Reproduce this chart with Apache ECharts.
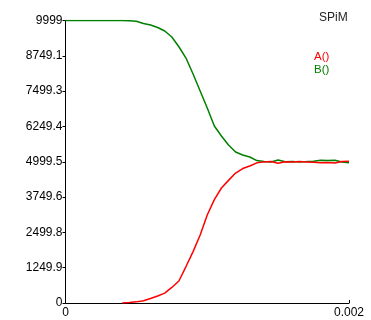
<!DOCTYPE html>
<html style="height: 100%">
<head>
  <meta charset="utf-8">
</head>
<body style="height: 100%; margin: 0; background: #fff">
  <div id="container" style="width: 371px; height: 320px"></div>
  <script type="text/javascript" src="https://cdn.jsdelivr.net/npm/echarts@6/dist/echarts.min.js"></script>
  <script type="text/javascript">
// time points (step 0.00005)
var times = [];
for (var k = 0; k <= 40; k++) times.push(+(k * 0.00005).toFixed(5));

// A() is hidden under the x axis before ~0.0004
var seriesA = [null, null, null, null, null, null, null, null, 0, 15, 40, 78, 160, 250, 350, 550, 780, 1290, 1820, 2405,
  3115, 3660, 4070, 4340, 4600, 4760, 4850, 4960, 4995, 5010, 4950, 5000, 4990, 5005, 4995, 4980,
  4960, 4970, 4955, 5010, 5020];
var seriesB = [9999, 9999, 9999, 9999, 9999, 9999, 9999, 9999, 9999, 9990, 9975, 9890, 9838, 9750, 9626, 9414, 9070, 8670, 8104, 7503,
  6900, 6264, 5910, 5592, 5344, 5238, 5167, 5040, 5005, 4990, 5060, 5000, 5010, 4995, 5005, 5020,
  5050, 5040, 5055, 4990, 4960];

var yLabels = ['0', '1249.9', '2499.8', '3749.6', '4999.5', '6249.4', '7499.3', '8749.1', '9999'];
var xLabels = ['0', '0.002'];

function pairs(vals) {
  return vals.map(function (v, i) { return [times[i], v]; });
}

var myChart = echarts.init(document.getElementById('container'), null, { renderer: 'canvas' });
var font = 'Liberation Sans, Arial, sans-serif';

var option = {
  backgroundColor: '#fff',
  animation: false,
  title: {
    text: 'SPiM',
    left: 314,
    top: 7,
    textStyle: { fontSize: 12, fontWeight: 'normal', color: '#222', fontFamily: font }
  },
  legend: {
    data: [
      { name: 'A()', textStyle: { color: '#ff0000' } },
      { name: 'B()', textStyle: { color: '#008000' } }
    ],
    orient: 'vertical',
    left: 304,
    top: 46,
    itemWidth: 0,
    itemHeight: 0,
    itemGap: 1,
    icon: 'rect',
    textStyle: { fontSize: 11.5, fontFamily: font }
  },
  grid: { left: 65.5, right: 22, top: 20.5, bottom: 17 },
  xAxis: {
    type: 'value',
    min: 0,
    max: 0.002,
    interval: 0.002,
    axisLine: { lineStyle: { color: '#000', width: 1 } },
    axisTick: { inside: true, length: 3, lineStyle: { color: '#000' } },
    splitLine: { show: false },
    axisLabel: {
      color: '#000', fontSize: 12, fontFamily: font, margin: 4,
      formatter: function (v, i) { return xLabels[i]; }
    }
  },
  yAxis: {
    type: 'value',
    min: 0,
    max: 9999,
    interval: 1249.875,
    axisLine: { show: true, lineStyle: { color: '#000', width: 1 } },
    axisTick: { show: true, length: 3, lineStyle: { color: '#000' } },
    splitLine: { show: false },
    axisLabel: {
      color: '#000', fontSize: 12, fontFamily: font, margin: 3,
      formatter: function (v, i) { return yLabels[i]; }
    }
  },
  series: [
    {
      name: 'B()',
      type: 'line',
      data: pairs(seriesB),
      showSymbol: false,
      lineStyle: { color: '#008000', width: 1.5 },
      itemStyle: { color: '#008000' }
    },
    {
      name: 'A()',
      type: 'line',
      data: pairs(seriesA),
      showSymbol: false,
      lineStyle: { color: '#ff0000', width: 1.5 },
      itemStyle: { color: '#ff0000' }
    }
  ]
};

myChart.setOption(option);
  </script>
</body>
</html>
